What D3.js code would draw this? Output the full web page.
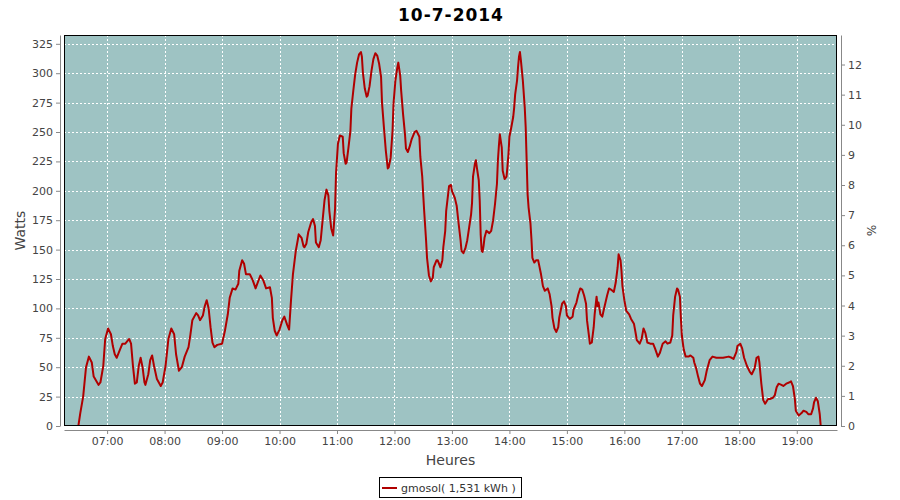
<!DOCTYPE html>
<html>
<head>
<meta charset="utf-8">
<script src="https://cdn.jsdelivr.net/npm/d3@7"></script>
<style>
  html, body { margin: 0; padding: 0; background: #fff; }
  svg { display: block; font-family: "DejaVu Sans", sans-serif; }
</style>
</head>
<body>
<svg id="chart" width="900" height="500"></svg>
<script>
// ---------- data ----------
const chartTitle = "10-7-2014";
const seriesName = "gmosol( 1,531 kWh )";
const xLabel = "Heures";
const yLabel = "Watts";
const y2Label = "%";
const xDomain = ["06:15", "19:42"];
const yTicks = [0, 25, 50, 75, 100, 125, 150, 175, 200, 225, 250, 275, 300, 325];
const y2Ticks = [0, 1, 2, 3, 4, 5, 6, 7, 8, 9, 10, 11, 12];
const yMax = 332.5;
const y2Max = 12.98;

const times = [
  "06:30","06:32","06:35","06:38","06:41","06:44","06:46","06:51","06:53","06:56","06:58",
  "07:01","07:04","07:06","07:08","07:10","07:13","07:16","07:19","07:23","07:25","07:27","07:29",
  "07:31","07:33","07:35","07:37","07:39","07:40","07:43","07:45","07:47","07:49","07:52","07:56","07:58",
  "08:01","08:04","08:07","08:10","08:12","08:15","08:18","08:21","08:25","08:27","08:29","08:33",
  "08:35","08:37","08:40","08:42","08:44","08:46","08:48","08:50","08:52","08:55",
  "09:00","09:03","09:06","09:08","09:11","09:14","09:17","09:18","09:21","09:23","09:25","09:29",
  "09:32","09:35","09:40","09:43","09:46","09:50","09:52","09:53","09:55","09:57",
  "10:00","10:03","10:05","10:08","10:10","10:12","10:14","10:17","10:19","10:20","10:23","10:25",
  "10:26","10:28","10:30","10:33","10:35","10:37","10:38","10:41","10:43","10:45","10:47","10:49",
  "10:51","10:52","10:54","10:56","10:58","10:59",
  "11:01","11:03","11:06","11:07","11:09","11:10","11:12","11:14","11:15","11:17","11:19","11:21",
  "11:23","11:25","11:26","11:27","11:29","11:31","11:32","11:34","11:36","11:38","11:40","11:42",
  "11:44","11:46","11:47","11:49","11:51","11:53","11:54","11:56","11:58","11:59",
  "12:01","12:03","12:04","12:06","12:07","12:09","12:11","12:12","12:14","12:16","12:18","12:21",
  "12:23","12:26","12:27","12:29","12:30","12:31","12:33","12:34","12:36","12:38","12:40","12:41",
  "12:44","12:45","12:48","12:50","12:51","12:53","12:54","12:56","12:57","12:59",
  "13:00","13:03","13:05","13:07","13:09","13:10","13:12","13:14","13:16","13:18","13:20","13:21",
  "13:22","13:24","13:25","13:26","13:28","13:29","13:30","13:31","13:32","13:33","13:34","13:36",
  "13:39","13:41","13:43","13:45","13:47","13:48","13:49","13:50","13:52","13:53","13:55","13:57",
  "13:58","13:59",
  "14:00","14:02","14:04","14:05","14:06","14:08","14:09","14:10","14:11","14:12","14:14","14:16",
  "14:17","14:18","14:19","14:20","14:22","14:23","14:24","14:26","14:28","14:30","14:31","14:33",
  "14:35","14:37","14:40","14:42","14:44","14:45","14:47","14:49","14:51","14:52","14:55","14:57","14:59",
  "15:00","15:03","15:06","15:07","15:10","15:12","15:14","15:16","15:18","15:20","15:21","15:23",
  "15:24","15:26","15:28","15:29","15:31","15:32","15:33","15:35","15:37","15:38","15:40","15:42",
  "15:44","15:46","15:49","15:51","15:53","15:54","15:56","15:57","15:58",
  "16:00","16:02","16:05","16:07","16:10","16:12","16:13","16:16","16:18","16:20","16:22","16:24",
  "16:27","16:30","16:32","16:35","16:37","16:40","16:43","16:45","16:48","16:50","16:51","16:53",
  "16:55","16:56","16:58","16:59",
  "17:00","17:02","17:04","17:07","17:09","17:12","17:13","17:15","17:17","17:19","17:21","17:24",
  "17:26","17:29","17:32","17:36","17:43","17:49","17:52","17:54","17:57","17:58",
  "18:01","18:03","18:05","18:08","18:11","18:13","18:16","18:18","18:20","18:21","18:23","18:25",
  "18:27","18:30","18:32","18:35","18:37","18:39","18:41","18:44","18:46","18:49","18:52","18:54",
  "18:56","18:58","18:59",
  "19:02","19:05","19:07","19:10","19:12","19:15","19:17","19:18","19:20","19:22","19:24","19:25"
];

const watts = [
  0,11,25,50,59,54,42,35,37,51,74,
  83,78,68,61,58,64,70,70,74,70,51,36,
  37,51,58,50,37,35,44,56,60,51,40,34,37,
  51,74,83,78,61,47,50,59,67,78,90,96,
  94,90,94,102,107,100,84,71,67,69,
  70,81,95,109,117,116,121,132,141,138,129,129,
  124,117,128,124,117,118,109,92,81,77,
  82,90,93,86,82,107,129,149,158,163,160,153,
  152,155,165,173,176,170,156,152,158,175,192,201,
  196,183,168,162,185,215,
  240,247,246,232,223,224,237,251,270,285,299,309,
  316,318,314,301,287,280,281,289,302,312,317,315,
  308,297,275,254,234,219,220,228,251,274,
  294,305,309,298,285,265,248,236,233,238,244,250,
  251,246,229,212,197,183,158,143,128,123,126,135,
  141,141,135,141,152,166,183,197,204,205,
  200,194,187,172,158,149,147,151,158,169,180,190,
  212,223,226,220,209,192,163,149,148,153,160,166,
  164,166,175,189,206,226,238,248,237,217,210,212,
  221,231,
  246,254,263,271,282,294,305,314,318,311,294,271,
  254,226,197,186,172,159,143,139,141,141,137,129,
  119,115,117,112,102,92,83,80,84,92,104,106,102,
  94,91,93,99,105,112,117,116,111,104,90,77,
  70,71,84,95,110,102,105,95,93,97,104,111,
  117,116,114,122,135,146,141,132,119,
  107,98,95,91,87,78,73,70,74,83,79,71,
  70,70,66,59,62,70,72,70,71,77,94,110,
  117,116,110,92,
  77,65,59,59,60,58,54,49,42,36,34,39,
  47,56,59,58,58,59,58,57,63,68,
  70,66,58,51,46,44,49,58,59,54,36,22,
  19,23,23,24,26,33,36,35,34,36,37,38,
  34,23,13,
  9,11,13,12,10,10,15,20,24,21,10,0
];

// ---------- layout ----------
const svg = d3.select("#chart");
const P = { left: 64, right: 837, top: 35, bottom: 426 };
const parseT = d3.timeParse("%H:%M");
const data = times.map((t, i) => ({ t: parseT(t), w: watts[i] }));

const x = d3.scaleTime().domain(xDomain.map(parseT)).range([P.left, P.right]);
const y = d3.scaleLinear().domain([0, yMax]).range([P.bottom, P.top]);
const y2 = d3.scaleLinear().domain([0, y2Max]).range([P.bottom, P.top]);
const hourTicks = x.ticks(d3.timeHour.every(1));

// plot background
svg.append("rect")
  .attr("x", P.left).attr("y", P.top)
  .attr("width", P.right - P.left).attr("height", P.bottom - P.top)
  .attr("fill", "#9ec3c3");

// grid
const grid = svg.append("g").attr("stroke", "#fff").attr("stroke-width", 1)
  .attr("stroke-dasharray", "2,2").attr("shape-rendering", "crispEdges");
grid.selectAll("line.h").data(yTicks.filter(d => d > 0)).join("line")
  .attr("x1", P.left).attr("x2", P.right)
  .attr("y1", d => Math.round(y(d)) + 0.5).attr("y2", d => Math.round(y(d)) + 0.5);
grid.selectAll("line.v").data(hourTicks).join("line")
  .attr("y1", P.top).attr("y2", P.bottom)
  .attr("x1", d => Math.round(x(d)) + 0.5).attr("x2", d => Math.round(x(d)) + 0.5);

// clip + line
svg.append("clipPath").attr("id", "clip").append("rect")
  .attr("x", P.left).attr("y", P.top)
  .attr("width", P.right - P.left).attr("height", P.bottom - P.top);

const line = d3.line().x(d => x(d.t)).y(d => y(d.w));
svg.append("path").datum(data)
  .attr("clip-path", "url(#clip)")
  .attr("fill", "none").attr("stroke", "#b00000").attr("stroke-width", 2)
  .attr("stroke-linejoin", "round")
  .attr("d", line);

// plot outline
svg.append("rect")
  .attr("x", P.left + 0.5).attr("y", P.top + 0.5)
  .attr("width", P.right - P.left - 1).attr("height", P.bottom - P.top - 1)
  .attr("fill", "none").attr("stroke", "#000").attr("stroke-width", 1);

// axes
function styleAxis(g) {
  g.selectAll("path.domain").attr("stroke", "#888");
  g.selectAll(".tick line").attr("stroke", "#888");
  g.selectAll(".tick text").attr("fill", "#444").attr("font-size", "11px")
    .attr("font-family", "DejaVu Sans, sans-serif");
}

svg.append("g").attr("transform", `translate(0,${P.bottom + 4})`)
  .call(d3.axisBottom(x).tickValues(hourTicks).tickFormat(d3.timeFormat("%H:%M"))
    .tickSize(4).tickSizeOuter(0).tickPadding(3))
  .call(styleAxis);

svg.append("g").attr("transform", `translate(${P.left - 4},0)`)
  .call(d3.axisLeft(y).tickValues(yTicks).tickSize(4).tickSizeOuter(0).tickPadding(3))
  .call(styleAxis);

svg.append("g").attr("transform", `translate(${P.right + 4},0)`)
  .call(d3.axisRight(y2).tickValues(y2Ticks).tickSize(4).tickSizeOuter(0).tickPadding(3))
  .call(styleAxis);

// titles
svg.append("text").attr("x", 451).attr("y", 21).attr("text-anchor", "middle")
  .attr("font-size", "17px").attr("font-weight", "bold").attr("letter-spacing", "1px")
  .attr("fill", "#000").text(chartTitle);

svg.append("text").attr("x", (P.left + P.right) / 2).attr("y", 465)
  .attr("text-anchor", "middle").attr("font-size", "14px").attr("fill", "#444")
  .text(xLabel);

svg.append("text").attr("transform", `translate(25,${(P.top + P.bottom) / 2}) rotate(-90)`)
  .attr("text-anchor", "middle").attr("font-size", "14px").attr("fill", "#444")
  .text(yLabel);

svg.append("text").attr("transform", `translate(867,${(P.top + P.bottom) / 2}) rotate(90)`)
  .attr("text-anchor", "middle").attr("font-size", "12px").attr("fill", "#444")
  .text(y2Label);

// legend
const lg = svg.append("g");
lg.append("rect").attr("x", 379.5).attr("y", 477.5).attr("width", 142).attr("height", 20)
  .attr("fill", "#fff").attr("stroke", "#000");
lg.append("line").attr("x1", 382).attr("x2", 397).attr("y1", 488).attr("y2", 488)
  .attr("stroke", "#b00000").attr("stroke-width", 2);
lg.append("text").attr("x", 401).attr("y", 492).attr("font-size", "11px").attr("fill", "#333")
  .text(seriesName);
</script>
</body>
</html>
